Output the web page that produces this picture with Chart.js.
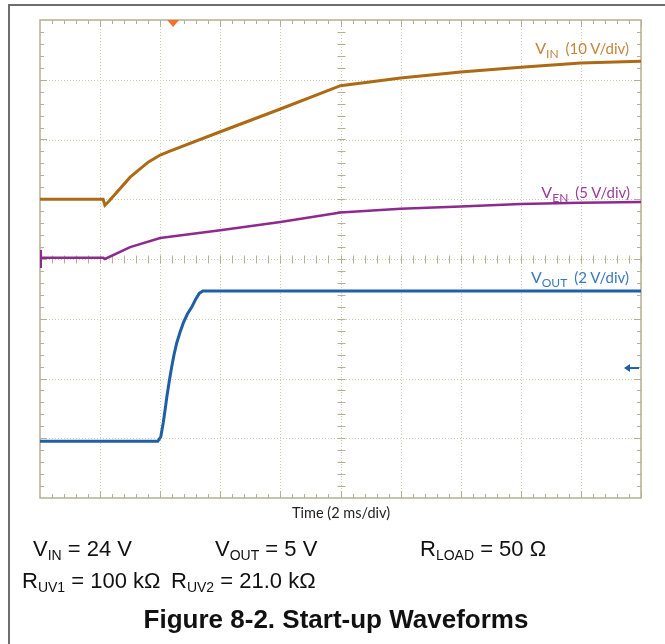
<!DOCTYPE html>
<html>
<head>
<meta charset="utf-8">
<script src="https://cdn.jsdelivr.net/npm/chart.js@4.4.4/dist/chart.umd.min.js"></script>
<style>
  html, body { margin: 0; padding: 0; background: #fff; }
  #page { position: relative; width: 665px; height: 644px; overflow: hidden; }
  #frame { position: absolute; left: 8px; top: 4px; right: -4px; bottom: -4px;
           border-left: 2px solid #6e6e6e; border-top: 2px solid #6e6e6e; }
  #scope { position: absolute; left: 0; top: 0; }
  .ch { position: absolute; font-family: Lato, "Open Sans", sans-serif; font-size: 16px;
        white-space: nowrap; line-height: 1; }
  .ch sub { font-size: 12px; vertical-align: -4px; line-height: 0; }
  .ch .div { font-size: 15px; margin-left: 7px; }
  #vinLbl { right: 36px; top: 40px; color: #c5853a; }
  #venLbl { right: 35px; top: 184px; color: #9b3d9b; }
  #voutLbl { right: 36px; top: 269px; color: #3b78bf; }
  #timeLbl { position: absolute; left: 0; width: 682px; top: 504px; text-align: center;
             font-family: Lato, "Open Sans", sans-serif; font-size: 14.5px; color: #222; }
  .cond { position: absolute; font-family: "Liberation Sans", Arial, sans-serif; font-size: 22px;
          color: #111; white-space: nowrap; line-height: 1; }
  .cond sub { font-size: 14px; vertical-align: -4px; line-height: 0; }
  #title { position: absolute; left: 0; width: 672px; top: 604px; text-align: center;
           font-family: "Liberation Sans", Arial, sans-serif; font-weight: bold; font-size: 26px; color: #111; }
</style>
</head>
<body>
<div id="page">
  <div id="frame"></div>
  <canvas id="scope" width="665" height="644"></canvas>
  <div class="ch" id="vinLbl">V<sub>IN</sub><span class="div">(10 V/div)</span></div>
  <div class="ch" id="venLbl">V<sub>EN</sub><span class="div">(5 V/div)</span></div>
  <div class="ch" id="voutLbl">V<sub>OUT</sub><span class="div">(2 V/div)</span></div>
  <div id="timeLbl">Time (2 ms/div)</div>
  <div class="cond" style="left:33px; top:538px;">V<sub>IN</sub> = 24 V</div>
  <div class="cond" style="left:215px; top:538px;">V<sub>OUT</sub> = 5 V</div>
  <div class="cond" style="left:420px; top:538px;">R<sub>LOAD</sub> = 50 Ω</div>
  <div class="cond" style="left:22px; top:570px;">R<sub>UV1</sub> = 100 kΩ</div>
  <div class="cond" style="left:171px; top:570px;">R<sub>UV2</sub> = 21.0 kΩ</div>
  <div id="title">Figure 8-2. Start-up Waveforms</div>
</div>
<script>
// time in ms (2 ms/div, 10 div), voltages in V
const vinTime  = [0, 2.1, 2.16, 2.3, 3.0, 3.6, 4.0, 4.3, 6.0, 8.0, 10.0, 12.0, 14.0, 16.0, 18.0, 20.0];
const vinVolts = [0, 0, -1.0, -0.3, 3.7, 6.2, 7.4, 8.0, 11.3, 15.1, 19.0, 20.3, 21.3, 22.1, 22.8, 23.1];

const venTime  = [0, 2.1, 2.16, 3.0, 4.0, 6.0, 8.0, 10.0, 12.0, 14.0, 16.0, 18.0, 20.0];
const venVolts = [0.1, 0.1, 0.0, 1.0, 1.75, 2.4, 3.1, 3.9, 4.2, 4.4, 4.6, 4.7, 4.77];

const voutTime  = [0, 3.92, 4.02, 4.10, 4.17, 4.22, 4.30, 4.38, 4.46, 4.55, 4.66, 4.77, 4.90, 5.05, 5.18, 5.30, 5.42, 8.0, 12.0, 16.0, 20.0];
const voutVolts = [0, 0, 0.15, 0.61, 1.1, 1.48, 2.0, 2.48, 2.9, 3.29, 3.65, 3.96, 4.25, 4.49, 4.75, 4.95, 5.03, 5.03, 5.03, 5.03, 5.03];

const triggerTime = 4.43;   // ms
const triggerLevel = 2.45;  // V on VOUT

const pts = (xs, ys) => xs.map((x, i) => ({ x, y: ys[i] }));

const borderColor = '#b3b094';
const dotColor = '#cfccb4';

const scopeGrid = {
  id: 'scopeGrid',
  beforeDatasetsDraw(chart) {
    const { ctx, chartArea: a, scales: { x, yDiv } } = chart;
    ctx.save();
    // dotted graticule
    ctx.strokeStyle = dotColor;
    ctx.lineWidth = 1;
    ctx.setLineDash([1, 2]);
    for (let t = 2; t < 20; t += 2) {
      const px = Math.round(x.getPixelForValue(t)) + 0.5;
      ctx.beginPath(); ctx.moveTo(px, a.top); ctx.lineTo(px, a.bottom); ctx.stroke();
    }
    for (let d = 1; d < 8; d++) {
      const py = Math.round(yDiv.getPixelForValue(d)) + 0.5;
      ctx.beginPath(); ctx.moveTo(a.left, py); ctx.lineTo(a.right, py); ctx.stroke();
    }
    ctx.setLineDash([]);
    // border
    ctx.strokeStyle = borderColor;
    ctx.lineWidth = 1.5;
    ctx.strokeRect(a.left, a.top, a.right - a.left, a.bottom - a.top);
    // minor ticks
    ctx.lineWidth = 1;
    const cx = Math.round(x.getPixelForValue(10)) + 0.5;
    const cy = Math.round(yDiv.getPixelForValue(4)) + 0.5;
    for (let t = 0.4; t < 20; t += 0.4) {
      const px = Math.round(x.getPixelForValue(t)) + 0.5;
      const major = Math.abs(t / 2 - Math.round(t / 2)) < 0.01;
      const len = major ? 7 : 4;
      ctx.beginPath();
      ctx.moveTo(px, a.top); ctx.lineTo(px, a.top + len);
      ctx.moveTo(px, a.bottom); ctx.lineTo(px, a.bottom - len);
      ctx.moveTo(px, cy - 4); ctx.lineTo(px, cy + 4);
      ctx.stroke();
    }
    for (let d = 0.2; d < 8; d += 0.2) {
      const py = Math.round(yDiv.getPixelForValue(d)) + 0.5;
      const major = Math.abs(d - Math.round(d)) < 0.01;
      const len = major ? 7 : 4;
      ctx.beginPath();
      ctx.moveTo(a.left, py); ctx.lineTo(a.left + len, py);
      ctx.moveTo(a.right, py); ctx.lineTo(a.right - len, py);
      ctx.moveTo(cx - 4, py); ctx.lineTo(cx + 4, py);
      ctx.stroke();
    }
    ctx.restore();
  },
  afterDatasetsDraw(chart) {
    const { ctx, chartArea: a, scales: { x, yEn, yOut } } = chart;
    ctx.save();
    // trigger position marker
    const tx = x.getPixelForValue(triggerTime);
    ctx.fillStyle = '#f0722e';
    ctx.beginPath();
    ctx.moveTo(tx - 6, a.top); ctx.lineTo(tx + 6, a.top); ctx.lineTo(tx, a.top + 7);
    ctx.closePath(); ctx.fill();
    // EN channel ground marker
    const gy = yEn.getPixelForValue(0);
    ctx.strokeStyle = '#8e2a8e';
    ctx.lineWidth = 2;
    ctx.beginPath(); ctx.moveTo(a.left + 1, gy - 9); ctx.lineTo(a.left + 1, gy + 9); ctx.stroke();
    // trigger level arrow
    const ly = yOut.getPixelForValue(triggerLevel);
    ctx.strokeStyle = '#1f5fa6';
    ctx.fillStyle = '#1f5fa6';
    ctx.lineWidth = 2;
    ctx.beginPath(); ctx.moveTo(a.right - 14, ly); ctx.lineTo(a.right - 2, ly); ctx.stroke();
    ctx.beginPath();
    ctx.moveTo(a.right - 17, ly); ctx.lineTo(a.right - 11, ly - 4); ctx.lineTo(a.right - 11, ly + 4);
    ctx.closePath(); ctx.fill();
    ctx.restore();
  }
};

const ctx = document.getElementById('scope');
new Chart(ctx, {
  type: 'line',
  data: {
    datasets: [
      { label: 'VIN', data: pts(vinTime, vinVolts), yAxisID: 'yVin',
        borderColor: '#ad6a14', borderWidth: 3, tension: 0 },
      { label: 'VEN', data: pts(venTime, venVolts), yAxisID: 'yEn',
        borderColor: '#8e2a8e', borderWidth: 2.5, tension: 0 },
      { label: 'VOUT', data: pts(voutTime, voutVolts), yAxisID: 'yOut',
        borderColor: '#1f5fa6', borderWidth: 3, tension: 0 }
    ]
  },
  options: {
    responsive: false,
    animation: false,
    layout: { padding: { left: 40, top: 20, right: 24, bottom: 146 } },
    elements: { point: { radius: 0 } },
    plugins: { legend: { display: false }, tooltip: { enabled: false } },
    scales: {
      x: { type: 'linear', min: 0, max: 20, display: false },
      yDiv: { min: 0, max: 8, display: false },
      yVin: { min: -50, max: 30, display: false },
      yEn: { min: -20, max: 20, display: false },
      yOut: { min: -1.9, max: 14.1, display: false }
    }
  },
  plugins: [scopeGrid]
});
</script>
</body>
</html>
